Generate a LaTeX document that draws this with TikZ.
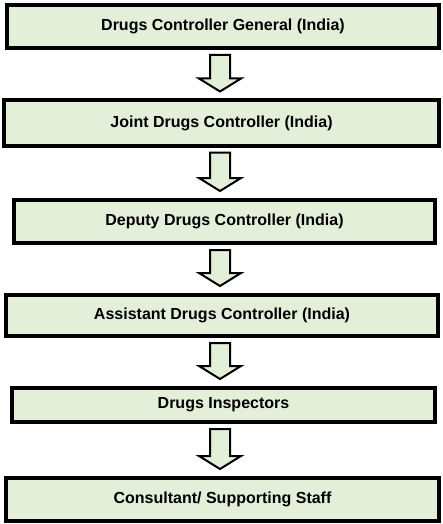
\documentclass[tikz,border=0pt]{standalone}
\usepackage{fontspec}
\setmainfont{Liberation Sans}
\usetikzlibrary{calc}
\definecolor{boxfill}{HTML}{E4EFD9}
\tikzset{
  box/.style={draw=black, line width=4pt, fill=boxfill, rectangle, inner sep=0pt,
    font=\fontsize{16}{19}\selectfont\bfseries},
  blockarr/.style={draw=black, line width=2pt, fill=boxfill, line join=miter}
}
\newcommand\blockarrow[2]{%
  \path let \p1=(ax |- #1.south), \p2=(ax |- #2.north) in
    coordinate (s) at ($(\p1)+(0,5)$)
    coordinate (t) at ($(\p2)+(0,-7)$);
  \draw[blockarr] ($(s)+(-10,0)$) -- ($(s)+(10,0)$) -- ($(t)+(10,-13)$) -- ($(t)+(21,-13)$)
    -- (t) -- ($(t)+(-21,-13)$) -- ($(t)+(-10,-13)$) -- cycle;
}
\begin{document}
\begin{tikzpicture}[x=1pt,y=-1pt]
\useasboundingbox (0,0) rectangle (443,524);
\coordinate (ax) at (220,0);
\node[box, minimum width=432pt, minimum height=43pt] (b1) at (223,26.5) {Drugs Controller General (India)};
\node[box, minimum width=435pt, minimum height=45pt] (b2) at (221.5,123) {Joint Drugs Controller (India)};
\node[box, minimum width=421pt, minimum height=43pt] (b3) at (224.5,221.5) {Deputy Drugs Controller (India)};
\node[box, minimum width=432pt, minimum height=41pt] (b4) at (222,315.5) {Assistant Drugs Controller (India)};
\node[box, minimum width=423pt, minimum height=34pt] (b5) at (223.5,405) {Drugs Inspectors};
\node[box, minimum width=433pt, minimum height=43pt] (b6) at (222.5,499.5) {Consultant/ Supporting Staff};
\blockarrow{b1}{b2}
\blockarrow{b2}{b3}
\blockarrow{b3}{b4}
\blockarrow{b4}{b5}
\blockarrow{b5}{b6}
\end{tikzpicture}
\end{document}
